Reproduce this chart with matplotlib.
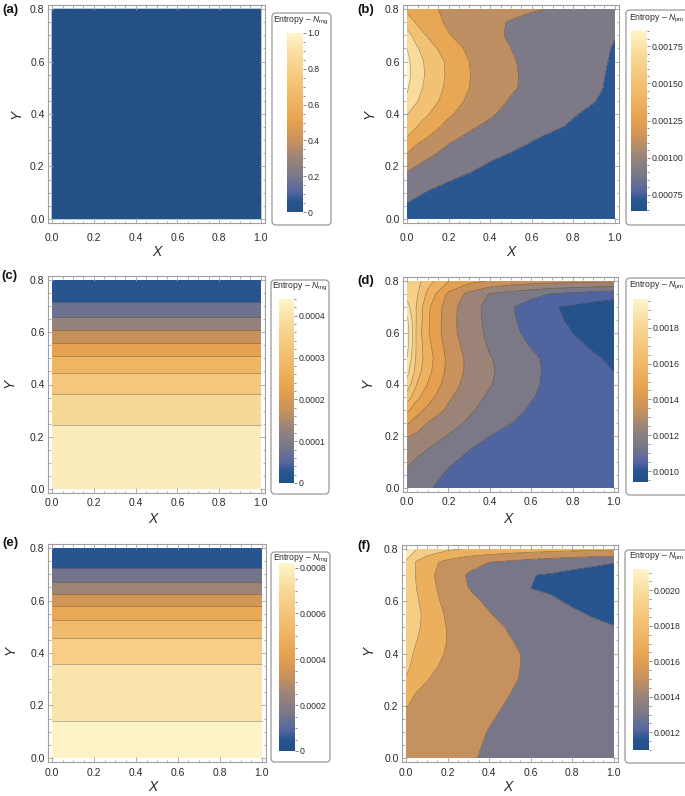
import numpy as np
import matplotlib
matplotlib.use("Agg")
import matplotlib.pyplot as plt
from matplotlib.colors import LinearSegmentedColormap, Normalize
from matplotlib.cm import ScalarMappable
from matplotlib.patches import FancyBboxPatch
from matplotlib.ticker import FixedLocator, MultipleLocator
from matplotlib.transforms import IdentityTransform

plt.rcParams['font.family'] = ['Liberation Sans', 'DejaVu Sans']
plt.rcParams['mathtext.fontset'] = 'custom'
plt.rcParams['mathtext.rm'] = 'Liberation Sans'
plt.rcParams['mathtext.it'] = 'Liberation Sans:italic'

# ---------------- data (entropy values in units of 1e-4 unless noted) ----------------
SCALE = 1e-4

# (a) N_mg is zero everywhere
a_x = [0.0, 1.0]
a_y = [0.0, 0.8]
entropy_a = [[0.0, 0.0], [0.0, 0.0]]

# (c), (e): N_mg depends on Y only
profile_y = [0.00, 0.05, 0.10, 0.15, 0.20, 0.25, 0.30, 0.35, 0.40,
             0.45, 0.50, 0.55, 0.60, 0.65, 0.70, 0.75, 0.80]
profile_x = [0.0, 1.0]
entropy_c = [4.40, 4.37, 4.30, 4.20, 4.10, 3.99, 3.78, 3.58, 3.28,
             2.96, 2.58, 2.10, 1.60, 1.10, 0.60, 0.28, 0.00]
entropy_e = [8.20, 8.15, 8.08, 7.98, 7.80, 7.60, 7.35, 7.05, 6.65,
             6.07, 5.45, 4.60, 3.55, 2.45, 1.35, 0.60, 0.00]

# (b), (d), (f): N_pm on a grid (rows = Y, columns = X)
grid_x = [0.0, 0.05, 0.1, 0.2, 0.3, 0.4, 0.5, 0.6, 0.7, 0.8, 0.9, 1.0]
grid_y = [0.00, 0.05, 0.10, 0.15, 0.20, 0.25, 0.30, 0.35, 0.40,
          0.45, 0.50, 0.55, 0.60, 0.65, 0.70, 0.75, 0.80]

entropy_b = [
    [7.3, 7.1, 6.9, 6.7, 6.6, 6.5, 6.45, 6.42, 6.4, 6.4, 6.4, 6.4],
    [7.85, 7.6, 7.4, 7.1, 6.9, 6.72, 6.62, 6.56, 6.5, 6.47, 6.45, 6.42],
    [8.5, 8.2, 7.9, 7.5, 7.2, 6.95, 6.8, 6.7, 6.6, 6.55, 6.5, 6.45],
    [9.4, 9.0, 8.65, 8.1, 7.7, 7.35, 7.1, 6.9, 6.75, 6.62, 6.55, 6.48],
    [10.4, 9.9, 9.5, 8.9, 8.3, 7.8, 7.4, 7.1, 6.9, 6.7, 6.6, 6.5],
    [12.0, 11.0, 10.35, 9.55, 8.85, 8.35, 7.95, 7.6, 7.3, 6.95, 6.75, 6.6],
    [13.6, 12.4, 11.7, 10.2, 9.6, 9.1, 8.6, 8.05, 7.6, 7.2, 6.9, 6.7],
    [15.0, 13.9, 13.0, 11.3, 10.2, 9.65, 9.1, 8.6, 8.2, 7.8, 7.4, 7.05],
    [16.1, 15.0, 14.1, 12.3, 11.1, 10.2, 9.5, 9.0, 8.6, 8.1, 7.7, 7.3],
    [17.7, 16.05, 15.0, 13.1, 11.6, 10.7, 9.85, 9.3, 8.85, 8.45, 8.05, 7.5],
    [18.2, 16.6, 15.4, 13.5, 12.0, 11.1, 10.2, 9.6, 9.1, 8.7, 8.3, 7.6],
    [18.6, 16.9, 15.6, 13.65, 12.05, 11.05, 10.2, 9.65, 9.15, 8.75, 8.35, 7.7],
    [18.5, 16.7, 15.5, 13.6, 12.0, 11.0, 10.15, 9.6, 9.15, 8.75, 8.4, 7.8],
    [18.0, 16.15, 14.9, 12.85, 11.65, 10.7, 10.0, 9.45, 9.05, 8.7, 8.4, 7.9],
    [16.8, 15.0, 13.8, 12.1, 11.3, 10.4, 9.8, 9.3, 8.9, 8.6, 8.35, 8.05],
    [15.0, 13.7, 12.8, 11.7, 11.0, 10.3, 9.9, 9.5, 9.2, 8.9, 8.7, 8.5],
    [13.5, 13.0, 12.4, 11.6, 11.1, 10.7, 10.4, 10.15, 9.9, 9.7, 9.5, 9.3],
]

entropy_d = [
    [11.6, 11.35, 11.05, 10.85, 10.7, 10.6, 10.5, 10.45, 10.4, 10.35, 10.3, 10.3],
    [11.85, 11.55, 11.25, 10.9, 10.77, 10.65, 10.55, 10.48, 10.42, 10.38, 10.33, 10.3],
    [12.15, 11.85, 11.6, 11.08, 10.85, 10.7, 10.6, 10.5, 10.45, 10.4, 10.35, 10.3],
    [12.6, 12.3, 12.0, 11.5, 11.02, 10.8, 10.67, 10.55, 10.48, 10.42, 10.38, 10.33],
    [13.1, 12.75, 12.45, 11.95, 11.5, 11.0, 10.75, 10.6, 10.5, 10.45, 10.4, 10.35],
    [14.1, 13.55, 12.95, 12.35, 11.85, 11.35, 11.02, 10.75, 10.6, 10.52, 10.45, 10.4],
    [15.2, 14.3, 13.75, 12.8, 12.15, 11.6, 11.25, 10.9, 10.7, 10.6, 10.5, 10.45],
    [16.5, 15.2, 14.4, 13.15, 12.4, 11.85, 11.45, 11.05, 10.75, 10.6, 10.45, 10.3],
    [17.6, 15.9, 14.95, 13.5, 12.6, 12.05, 11.65, 11.15, 10.8, 10.55, 10.3, 10.1],
    [18.35, 16.4, 15.3, 13.7, 12.75, 12.1, 11.7, 11.2, 10.8, 10.5, 10.22, 10.0],
    [18.95, 16.6, 15.45, 13.75, 12.75, 12.05, 11.7, 11.2, 10.75, 10.4, 10.12, 9.85],
    [19.35, 16.65, 15.3, 13.55, 12.6, 11.9, 11.45, 10.95, 10.55, 10.2, 9.9, 9.65],
    [19.5, 16.6, 15.1, 13.4, 12.45, 11.8, 11.2, 10.8, 10.4, 10.0, 9.7, 9.45],
    [19.2, 16.7, 15.15, 13.4, 12.4, 11.75, 11.15, 10.65, 10.15, 9.9, 9.65, 9.5],
    [18.4, 16.8, 15.2, 13.45, 12.4, 11.7, 11.1, 10.55, 10.05, 9.9, 9.7, 9.6],
    [17.6, 17.05, 15.75, 13.8, 12.7, 11.95, 11.6, 11.3, 10.95, 10.7, 10.5, 10.3],
    [17.8, 17.3, 16.4, 15.0, 14.3, 13.9, 13.6, 13.45, 13.35, 13.3, 13.25, 13.2],
]

entropy_f = [
    [15.3, 15.1, 14.9, 14.55, 14.15, 13.8, 13.5, 13.3, 13.1, 12.95, 12.85, 12.8],
    [15.4, 15.2, 15.0, 14.65, 14.25, 13.87, 13.55, 13.32, 13.12, 12.97, 12.87, 12.8],
    [15.5, 15.3, 15.1, 14.75, 14.35, 13.95, 13.6, 13.35, 13.15, 13.0, 12.9, 12.8],
    [15.7, 15.5, 15.3, 14.9, 14.5, 14.1, 13.72, 13.42, 13.2, 13.02, 12.9, 12.8],
    [16.05, 15.8, 15.55, 15.1, 14.7, 14.3, 13.85, 13.5, 13.25, 13.05, 12.9, 12.8],
    [16.8, 15.95, 15.75, 15.25, 14.85, 14.45, 14.02, 13.6, 13.28, 13.05, 12.88, 12.75],
    [17.8, 16.9, 16.05, 15.4, 15.0, 14.65, 14.2, 13.7, 13.3, 13.05, 12.85, 12.7],
    [18.5, 17.2, 16.4, 15.65, 15.1, 14.72, 14.28, 13.72, 13.25, 12.95, 12.7, 12.5],
    [19.0, 17.5, 16.7, 15.85, 15.2, 14.75, 14.3, 13.7, 13.2, 12.85, 12.55, 12.3],
    [19.3, 18.05, 17.05, 15.95, 15.15, 14.65, 14.08, 13.5, 13.02, 12.68, 12.4, 12.18],
    [19.5, 18.4, 17.3, 15.9, 15.0, 14.45, 13.85, 13.3, 12.85, 12.5, 12.25, 12.05],
    [19.6, 18.5, 17.4, 15.7, 14.75, 14.1, 13.4, 12.9, 12.5, 12.18, 11.92, 11.7],
    [19.6, 18.3, 17.0, 15.4, 14.45, 13.7, 13.0, 12.5, 12.15, 11.85, 11.55, 11.3],
    [19.6, 18.0, 16.8, 15.1, 14.0, 13.4, 12.6, 12.0, 11.85, 11.55, 11.3, 11.1],
    [19.6, 17.8, 16.6, 14.9, 13.85, 13.2, 12.4, 12.05, 11.85, 11.6, 11.4, 11.3],
    [19.8, 17.8, 16.8, 15.4, 14.5, 14.0, 13.6, 13.2, 12.85, 12.55, 12.3, 12.05],
    [21.0, 20.0, 19.3, 18.3, 17.8, 17.4, 17.1, 16.9, 16.7, 16.55, 16.4, 16.3],
]

# contour levels (units 1e-4)
levels_b = [8, 10, 12, 14, 16, 18]
levels_c = [0.5, 1.0, 1.5, 2.0, 2.5, 3.0, 3.5, 4.0]
levels_d = [10, 11, 12, 13, 14, 15, 16, 17, 18, 19]
levels_e = [1, 2, 3, 4, 5, 6, 7, 8]
levels_f = [12, 14, 16, 18, 20]

# legend ranges
range_a = (0.0, 1.0)
range_b = (6.4e-4, 18.6e-4)
range_c = (0.0, 4.4e-4)
range_d = (9.4e-4, 19.6e-4)
range_e = (0.0, 8.2e-4)
range_f = (11.0e-4, 21.2e-4)

# legend ticks and labels
ticks_a = [0.0, 0.2, 0.4, 0.6, 0.8, 1.0]
labels_a = ["0", "0.2", "0.4", "0.6", "0.8", "1.0"]
ticks_b = [0.00075, 0.00100, 0.00125, 0.00150, 0.00175]
labels_b = ["0.00075", "0.00100", "0.00125", "0.00150", "0.00175"]
ticks_c = [0.0, 0.0001, 0.0002, 0.0003, 0.0004]
labels_c = ["0", "0.0001", "0.0002", "0.0003", "0.0004"]
ticks_d = [0.0010, 0.0012, 0.0014, 0.0016, 0.0018]
labels_d = ["0.0010", "0.0012", "0.0014", "0.0016", "0.0018"]
ticks_e = [0.0, 0.0002, 0.0004, 0.0006, 0.0008]
labels_e = ["0", "0.0002", "0.0004", "0.0006", "0.0008"]
ticks_f = [0.0012, 0.0014, 0.0016, 0.0018, 0.0020]
labels_f = ["0.0012", "0.0014", "0.0016", "0.0018", "0.0020"]

title_mg = r"Entropy – $N_{\rm mg}$"
title_pm = r"Entropy – $N_{\rm pm}$"

# ---------------- colormap (Mathematica-like default gradient) ----------------
cmap = LinearSegmentedColormap.from_list("m10", [
    (0.00, "#245086"), (0.06, "#285590"), (0.11, "#5466a0"), (0.20, "#7a7889"),
    (0.30, "#9a8478"), (0.40, "#c9925c"), (0.50, "#e5a04e"), (0.62, "#eeb462"),
    (0.75, "#f4c87c"), (0.88, "#f9dc9e"), (1.00, "#fff5cc")])

W, H = 685, 796
fig = plt.figure(figsize=(W / 100, H / 100), dpi=100)


def rect(l, t, r, b):
    return [l / W, 1 - b / H, (r - l) / W, (b - t) / H]


FRAME_C = "#a0a0a0"
TEXT_C = "#2a2a2a"


def setup_axes(frame, xpad):
    ax = fig.add_axes(rect(*frame))
    ax.set_xlim(-0.02, 1.02)
    ax.set_ylim(-0.016, 0.816)
    for s in ax.spines.values():
        s.set_color(FRAME_C)
        s.set_linewidth(0.8)
    ax.xaxis.set_major_locator(FixedLocator([0, 0.2, 0.4, 0.6, 0.8, 1.0]))
    ax.yaxis.set_major_locator(FixedLocator([0, 0.2, 0.4, 0.6, 0.8]))
    ax.xaxis.set_minor_locator(MultipleLocator(0.05))
    ax.yaxis.set_minor_locator(MultipleLocator(0.05))
    ax.set_xticklabels(["0.0", "0.2", "0.4", "0.6", "0.8", "1.0"])
    ax.set_yticklabels(["0.0", "0.2", "0.4", "0.6", "0.8"])
    ax.tick_params(which="both", direction="in", top=True, right=True,
                   color=FRAME_C, width=0.6, labelsize=7.5, labelcolor=TEXT_C)
    ax.tick_params(which="major", length=3.5)
    ax.tick_params(which="minor", length=1.8)
    ax.tick_params(axis="x", pad=xpad)
    ax.tick_params(axis="y", pad=2.5)
    return ax


def band_colors(levels, rng):
    vmin, vmax = rng
    bounds = [vmin] + [l * SCALE for l in levels] + [vmax]
    cols = []
    for lo, hi in zip(bounds[:-1], bounds[1:]):
        cols.append(cmap(((lo + hi) / 2 - vmin) / (vmax - vmin)))
    return cols


def draw_contours(ax, xs, ys, Z, levels, rng):
    Zs = np.array(Z) * SCALE
    lv = [l * SCALE for l in levels]
    full = [min(rng[0], Zs.min()) - 1e-9] + lv + [max(rng[1], Zs.max()) + 1e-9]
    ax.contourf(xs, ys, Zs, levels=full, colors=band_colors(levels, rng))
    ax.contour(xs, ys, Zs, levels=lv, colors=[(0.15, 0.15, 0.15, 0.45)],
               linewidths=0.5)


def legend(box, bar, rng, ticks, labels, minor_step, title, title_xy):
    patch = FancyBboxPatch((box[0], H - box[3]), box[2] - box[0], box[3] - box[1],
                           boxstyle="round,pad=0,rounding_size=4",
                           transform=IdentityTransform(), facecolor="white",
                           edgecolor="#9a9a9a", linewidth=0.9, zorder=-1)
    fig.add_artist(patch)
    cax = fig.add_axes(rect(*bar))
    sm = ScalarMappable(norm=Normalize(*rng), cmap=cmap)
    cb = fig.colorbar(sm, cax=cax)
    cb.outline.set_visible(False)
    cax.yaxis.set_major_locator(FixedLocator(ticks))
    cax.set_yticklabels(labels)
    mins = np.arange(rng[0] - (rng[0] % minor_step), rng[1] + minor_step, minor_step)
    mins = [m for m in mins if rng[0] <= m <= rng[1]]
    cax.yaxis.set_minor_locator(FixedLocator(mins))
    cax.tick_params(which="both", direction="out", color="#555555", width=0.5,
                    labelsize=6.3, labelcolor=TEXT_C, pad=1.2)
    cax.tick_params(which="major", length=2.2)
    cax.tick_params(which="minor", length=1.2)
    fig.text(title_xy[0] / W, 1 - title_xy[1] / H, title, ha="center", va="center",
             fontsize=6.2, color=TEXT_C)


def labels(label, lab_xy, xl_xy, yl_xy):
    fig.text(lab_xy[0] / W, 1 - lab_xy[1] / H, label, ha="left", va="center",
             fontsize=9.5, fontweight="bold", color="#111111")
    fig.text(xl_xy[0] / W, 1 - xl_xy[1] / H, "X", ha="center", va="center",
             fontsize=10, style="italic", color=TEXT_C)
    fig.text(yl_xy[0] / W, 1 - yl_xy[1] / H, "Y", ha="center", va="center",
             fontsize=10, style="italic", rotation=90, color=TEXT_C)


# ---------------- panel (a) ----------------
ax = setup_axes((48, 5, 265, 223), 7.0)
ax.pcolormesh(a_x, a_y, np.array(entropy_a), cmap=cmap, vmin=range_a[0], vmax=range_a[1],
              shading="gouraud")
legend((272, 13, 331, 225), (287, 33, 303, 212), range_a, ticks_a, labels_a, 0.05,
       title_mg, (301, 21))
labels("(a)", (2, 10), (157, 252), (17, 114))

# ---------------- panel (b) ----------------
ax = setup_axes((403, 5, 619, 223), 7.0)
draw_contours(ax, grid_x, grid_y, entropy_b, levels_b, range_b)
legend((626, 10, 689, 225), (631, 30, 647, 211), range_b, ticks_b, labels_b, 0.00005,
       title_pm, (657, 19))
labels("(b)", (357, 10), (511, 252), (370, 114))

# ---------------- panel (c) ----------------
ax = setup_axes((48, 276, 265, 493), 3.5)
draw_contours(ax, profile_x, profile_y, [[v, v] for v in entropy_c], levels_c, range_c)
legend((271, 280, 329, 494), (279, 299, 294, 483), range_c, ticks_c, labels_c, 0.00002,
       title_mg, (300, 287))
labels("(c)", (1, 276), (153, 519), (10, 383))

# ---------------- panel (d) ----------------
ax = setup_axes((403, 277, 618, 492), 3.5)
draw_contours(ax, grid_x, grid_y, entropy_d, levels_d, range_d)
legend((626, 278, 689, 495), (633, 299, 648, 482), range_d, ticks_d, labels_d, 0.00005,
       title_pm, (657, 286))
labels("(d)", (357, 281), (508, 519), (368, 383))

# ---------------- panel (e) ----------------
ax = setup_axes((48, 544, 266, 762), 4.3)
draw_contours(ax, profile_x, profile_y, [[v, v] for v in entropy_e], levels_e, range_e)
legend((271, 552, 330, 762), (279, 563, 295, 751), range_e, ticks_e, labels_e, 0.00005,
       title_mg, (301, 559))
labels("(e)", (2, 543), (153, 787), (11, 650))

# ---------------- panel (f) ----------------
ax = setup_axes((402, 545, 618, 762), 4.3)
draw_contours(ax, grid_x, grid_y, entropy_f, levels_f, range_f)
legend((625, 550, 689, 763), (633, 569, 649, 750), range_f, ticks_f, labels_f, 0.00005,
       title_pm, (657, 557))
labels("(f)", (357, 546), (508, 787), (369, 650))

fig.savefig("out.png", dpi=100)
